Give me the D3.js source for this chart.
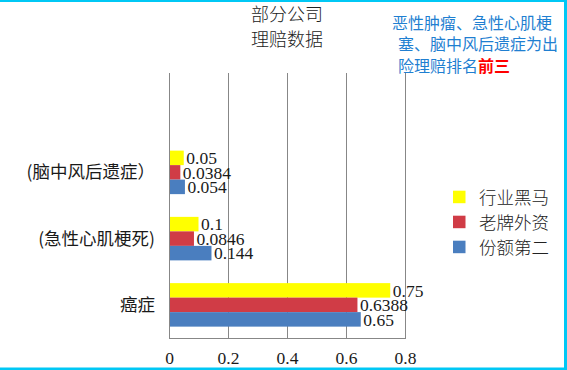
<!DOCTYPE html>
<html>
<head>
<meta charset="utf-8">
<script src="https://cdn.jsdelivr.net/npm/d3@7/dist/d3.min.js"></script>
<style>
  html, body { margin: 0; padding: 0; background: #fff; }
  svg { display: block; }
</style>
</head>
<body>
<svg id="chart" width="567" height="370"></svg>
<script>
// ---- data ----
const categories = ["(脑中风后遗症）", "(急性心肌梗死)", "癌症"]; // top to bottom
const seriesNames = ["行业黑马", "老牌外资", "份额第二"];
const seriesColors = ["#ffff00", "#d03c46", "#4a7ebf"];
const valuesHeima = [0.05, 0.1, 0.75];
const valuesWaizi = [0.0384, 0.0846, 0.6388];
const valuesFenE = [0.054, 0.144, 0.65];
const xTicks = [0, 0.2, 0.4, 0.6, 0.8];
const titleLines = ["部分公司", "理赔数据"];
const noteLines = [["恶性肿瘤、急性心肌梗", ""], ["塞、脑中风后遗症为出", ""], ["险理赔排名", "前三"]];

const seriesValues = [valuesHeima, valuesWaizi, valuesFenE];

const svg = d3.select("#chart");
const W = 567, H = 370;

// border (cyan, top/right/bottom)
svg.append("rect").attr("x", 0).attr("y", 0).attr("width", W).attr("height", H).attr("fill", "#fff");
svg.append("rect").attr("x", 0).attr("y", 0).attr("width", W).attr("height", 2).attr("fill", "#00c8f5");
svg.append("rect").attr("x", 564).attr("y", 0).attr("width", 3).attr("height", H).attr("fill", "#00c8f5");
svg.append("rect").attr("x", 0).attr("y", 367.5).attr("width", W).attr("height", 2.5).attr("fill", "#00c8f5");

const plot = { left: 169, right: 405, top: 73, bottom: 338 };

const x = d3.scaleLinear().domain([0, 0.8]).range([plot.left, plot.right]);
const y = d3.scaleBand().domain([""].concat(categories)).range([plot.top, plot.bottom]).padding(0);
const ySub = d3.scaleBand().domain(seriesNames).range([0, y.bandwidth()]).paddingInner(0).paddingOuter(0.784);

// gridlines
const gridColor = "#878787";
svg.append("g").selectAll("line").data(xTicks.slice(1)).join("line")
  .attr("x1", d => x(d) + 0.5).attr("x2", d => x(d) + 0.5)
  .attr("y1", plot.top).attr("y2", plot.bottom)
  .attr("stroke", gridColor).attr("stroke-width", 1);

// bars
const barData = [];
categories.forEach((c, i) => {
  seriesNames.forEach((s, j) => {
    barData.push({ cat: c, series: s, value: seriesValues[j][i], color: seriesColors[j] });
  });
});

svg.append("g").selectAll("rect").data(barData).join("rect")
  .attr("x", x(0))
  .attr("y", d => y(d.cat) + ySub(d.series))
  .attr("width", d => x(d.value) - x(0))
  .attr("height", ySub.bandwidth())
  .attr("fill", d => d.color);

// value labels
svg.append("g").selectAll("text").data(barData).join("text")
  .attr("x", d => x(d.value) + 2.5)
  .attr("y", d => y(d.cat) + ySub(d.series) + ySub.bandwidth() / 2 + 6.2)
  .attr("font-family", "'Liberation Serif', 'Times New Roman', serif")
  .attr("font-size", 17.5)
  .attr("fill", "#1a1a1a")
  .text(d => String(d.value));

// axes lines
svg.append("line").attr("x1", plot.left + 0.5).attr("x2", plot.left + 0.5)
  .attr("y1", plot.top).attr("y2", plot.bottom + 0.5)
  .attr("stroke", gridColor).attr("stroke-width", 1);
svg.append("line").attr("x1", plot.left).attr("x2", plot.right + 1)
  .attr("y1", plot.bottom + 0.5).attr("y2", plot.bottom + 0.5)
  .attr("stroke", gridColor).attr("stroke-width", 1);

// x tick labels via axis
const xAxis = d3.axisBottom(x).tickValues(xTicks).tickSize(0).tickPadding(0).tickFormat(d => String(d));
const gx = svg.append("g").attr("transform", `translate(0, ${plot.bottom})`).call(xAxis);
gx.select(".domain").remove();
gx.selectAll("text")
  .attr("y", 25.5).attr("dy", null)
  .attr("font-family", "'Liberation Serif', 'Times New Roman', serif")
  .attr("font-size", 17.5).attr("fill", "#1a1a1a");

// category labels
svg.append("g").selectAll("text").data(categories).join("text")
  .attr("x", 155)
  .attr("y", d => y(d) + y.bandwidth() / 2 + 6)
  .attr("text-anchor", "end")
  .attr("font-family", "'Noto Sans CJK SC', sans-serif")
  .attr("font-size", 17.5)
  .attr("fill", "#1a1a1a")
  .text(d => d);

// title
svg.append("g").selectAll("text").data(titleLines).join("text")
  .attr("x", 287)
  .attr("y", (d, i) => 20.5 + i * 25.5)
  .attr("text-anchor", "middle")
  .attr("font-family", "'Noto Sans CJK SC', sans-serif")
  .attr("font-weight", 300)
  .attr("font-size", 18)
  .attr("fill", "#222")
  .text(d => d);

// annotation
const noteX = [392, 398, 398];
const noteG = svg.append("g");
noteLines.forEach((parts, i) => {
  const t = noteG.append("text")
    .attr("x", noteX[i])
    .attr("y", 28.5 + i * 21.7)
    .attr("font-family", "'Noto Sans CJK SC', sans-serif")
    .attr("font-size", 16);
  t.append("tspan").attr("fill", "#1f7fd1").text(parts[0]);
  if (parts[1]) t.append("tspan").attr("fill", "#ff0000").attr("font-weight", 700).text(parts[1]);
});

// legend
const lg = svg.append("g");
seriesNames.forEach((s, i) => {
  const cy = 197 + i * 25;
  lg.append("rect").attr("x", 453).attr("y", cy - 6.3).attr("width", 12.5).attr("height", 12.5).attr("fill", seriesColors[i]);
  lg.append("text").attr("x", 479).attr("y", cy + 6.5)
    .attr("font-family", "'Noto Sans CJK SC', sans-serif")
    .attr("font-weight", 300)
    .attr("font-size", 17.5)
    .attr("fill", "#222")
    .text(s);
});
</script>
</body>
</html>
